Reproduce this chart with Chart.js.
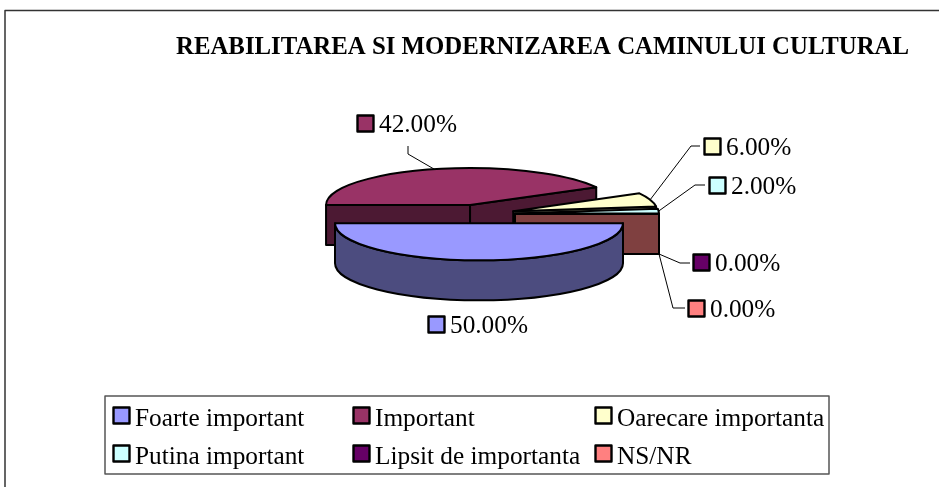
<!DOCTYPE html>
<html>
<head>
<meta charset="utf-8">
<style>html,body{margin:0;padding:0;background:#fff}canvas{display:block}</style>
<script src="https://cdn.jsdelivr.net/npm/chart.js@4/dist/chart.umd.min.js"></script>
</head>
<body>
<canvas id="c" width="939" height="487"></canvas>
<script>
const chartTitle = 'REABILITAREA SI MODERNIZAREA CAMINULUI CULTURAL';
const categories = ['Foarte important', 'Important', 'Oarecare importanta', 'Putina important', 'Lipsit de importanta', 'NS/NR'];
const shares = [50, 42, 6, 2, 0, 0];
const sliceColors = ['#9999FF', '#993366', '#FFFFCC', '#CCFFFF', '#660066', '#FF8080'];
const wallColors = ['#4C4C7F', '#4C1933', '#7F7F66', '#667F7F', '#330033', '#7F4040'];

const serif = '"Liberation Serif", "Times New Roman", serif';
const squash = 0.257, depth = 40, explode = 36, pieRadius = 144;
const paintOrder = [1, 2, 3, 4, 5, 0];
// swatch left/top of each value label, and the leader elbows
const labelBoxes = [[428, 316], [357, 115], [704, 138], [709, 177], [693, 254], [688, 300]];
const leaderElbows = [null, [[408, 154], [408, 146]], [[691, 146], [700, 146]], [[695, 185], [705, 185]], [[680, 263], [690, 263]], [[673, 308], [685, 308]]];
const legendCols = [113, 353, 595];
const legendRows = [407, 445];

function swatch(ctx, x, y, color) {
  ctx.fillStyle = color;
  ctx.strokeStyle = '#000';
  ctx.lineWidth = 2.4;
  ctx.lineJoin = 'round';
  ctx.fillRect(x + 0.5, y + 0.5, 16, 16);
  ctx.strokeRect(x + 0.5, y + 0.5, 16, 16);
}

const pie3d = {
  id: 'pie3d',
  beforeDatasetsDraw(chart) {
    const ctx = chart.ctx;
    const arcs = chart.getDatasetMeta(0).data;
    const base = s => {
      const mid = (s.startAngle + s.endAngle) / 2;
      return {
        ox: s.x + Math.cos(mid) * explode,
        oy: s.y + Math.sin(mid) * explode * squash,
        mid
      };
    };
    const ry = pieRadius * squash;
    ctx.save();
    ctx.lineWidth = 2;
    ctx.strokeStyle = '#000';
    ctx.lineJoin = 'round';
    for (const i of paintOrder) {
      const s = arcs[i];
      const r = s.outerRadius;
      const a0 = s.startAngle, a1 = s.endAngle;
      const { ox, oy } = base(s);
      ctx.fillStyle = wallColors[i];
      const face = ang => {
        const px = ox + Math.cos(ang) * r, py = oy + Math.sin(ang) * ry;
        ctx.beginPath();
        ctx.moveTo(ox, oy);
        ctx.lineTo(px, py);
        ctx.lineTo(px, py + depth);
        ctx.lineTo(ox, oy + depth);
        ctx.closePath();
        ctx.fill();
        ctx.stroke();
      };
      if (Math.cos(a0) < -1e-6) face(a0);
      if (Math.cos(a1) > 1e-6) face(a1);
      const fa = Math.max(a0, 0), fb = Math.min(a1, Math.PI);
      if (fa < fb) {
        ctx.beginPath();
        ctx.ellipse(ox, oy, r, ry, 0, fa, fb);
        ctx.ellipse(ox, oy + depth, r, ry, 0, fb, fa, true);
        ctx.closePath();
        ctx.fill();
        ctx.stroke();
      }
      if (a1 > a0) {
        ctx.save();
        ctx.translate(0, s.y);
        ctx.scale(1, squash);
        ctx.translate(0, -s.y);
        ctx.translate(ox - s.x, (oy - s.y) / squash);
        s.draw(ctx);
        ctx.restore();
        ctx.beginPath();
        ctx.moveTo(ox, oy);
        ctx.ellipse(ox, oy, r, ry, 0, a0, a1);
        ctx.closePath();
        ctx.stroke();
      }
    }
    ctx.restore();

    // leaders
    ctx.save();
    ctx.strokeStyle = '#000';
    ctx.lineWidth = 1;
    arcs.forEach((s, i) => {
      const elbows = leaderElbows[i];
      if (!elbows) return;
      const { ox, oy, mid } = base(s);
      const startX = ox + Math.cos(mid) * s.outerRadius;
      let startY = oy + Math.sin(mid) * ry;
      if (shares[i] === 0) startY += depth;
      ctx.beginPath();
      ctx.moveTo(startX, startY);
      elbows.forEach(p => ctx.lineTo(p[0], p[1]));
      ctx.stroke();
    });
    ctx.restore();

    // value labels
    ctx.save();
    ctx.textBaseline = 'alphabetic';
    ctx.textAlign = 'left';
    ctx.font = '25.3px ' + serif;
    shares.forEach((v, i) => {
      const [x, y] = labelBoxes[i];
      swatch(ctx, x, y, sliceColors[i]);
      ctx.fillStyle = '#000';
      ctx.fillText(v.toFixed(2) + '%', x + 22, y + 17);
    });

    // title
    ctx.font = 'bold 24.8px ' + serif;
    ctx.fillText(chartTitle, 176, 54);

    // frame
    ctx.strokeStyle = '#333';
    ctx.lineWidth = 1.5;
    ctx.strokeRect(5, 10.5, 960, 500);

    // legend
    ctx.strokeStyle = '#555';
    ctx.lineWidth = 1.5;
    ctx.strokeRect(105, 396, 724, 78);
    ctx.font = '25.3px ' + serif;
    categories.forEach((name, i) => {
      const x = legendCols[i % 3], y = legendRows[Math.floor(i / 3)];
      swatch(ctx, x, y, sliceColors[i]);
      ctx.fillStyle = '#000';
      ctx.fillText(name, x + 22, y + 19);
    });
    ctx.restore();
    return false;
  }
};

new Chart(document.getElementById('c'), {
  type: 'pie',
  data: {
    labels: categories,
    datasets: [{ data: shares, backgroundColor: sliceColors, borderWidth: 0, offset: 0 }]
  },
  options: {
    responsive: false,
    animation: false,
    rotation: 90,
    radius: pieRadius,
    layout: { padding: { left: 19, right: 0, top: 0, bottom: 59 } },
    events: [],
    plugins: { legend: { display: false }, tooltip: { enabled: false }, title: { display: false } }
  },
  plugins: [pie3d]
});
</script>
</body>
</html>
